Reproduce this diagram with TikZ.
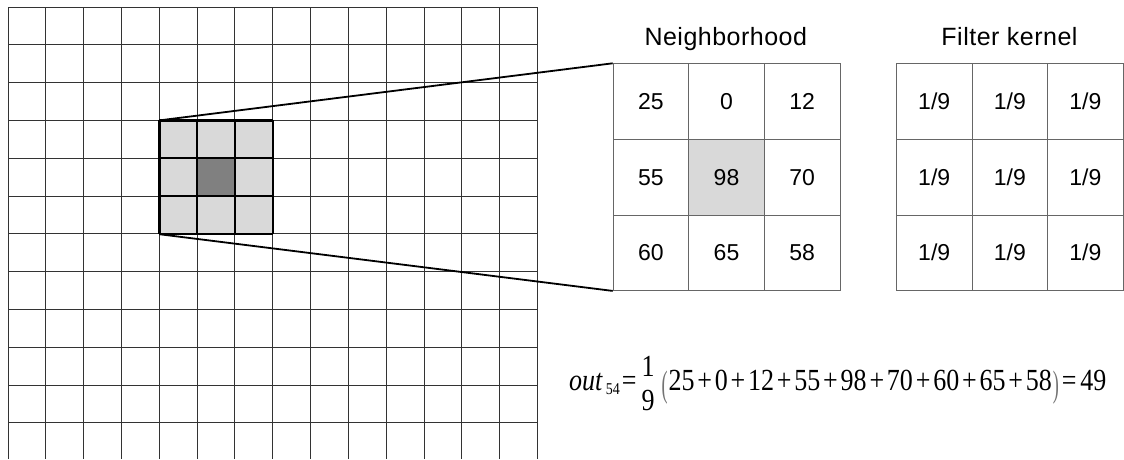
\documentclass[tikz,border=0pt]{standalone}
\usepackage{fontspec}
\usepackage{graphicx}
\setmainfont{Liberation Sans}
\newfontfamily\eqfont{Liberation Serif}
\newfontfamily\titlefont[LetterSpace=2]{Liberation Sans}
\newcommand\pl{\hspace{2.8pt}+\hspace{2.8pt}}
\newcommand\thinparen[1]{\raisebox{-5.8pt}{\textcolor{black!55}{\scalebox{0.7}[1.2]{#1}}}}
\tikzset{
  gridline/.style={draw=black!80, line width=1pt},
  winline/.style={draw=black, line width=2.4pt},
  cellbox/.style={draw=black!60, line width=0.8pt, minimum width=75.6pt, minimum height=75.6pt,
    inner sep=0pt, anchor=north west, text height=16.5pt, text depth=0pt,
    font=\fontsize{23}{27}\selectfont},
  title/.style={font=\titlefont\fontsize{25}{30}\selectfont, anchor=base, inner sep=0pt},
  connector/.style={draw=black, line width=1.8pt},
  eqnode/.style={anchor=base west, inner sep=0pt}
}
\begin{document}
\begin{tikzpicture}[x=1pt,y=-1pt]
\useasboundingbox (0,0) rectangle (1124,459);
% image grid
\fill[gray!30] (159.3,120.4) rectangle (272.7,233.8);
\fill[gray] (197.1,158.2) rectangle (234.9,196);
\foreach \i in {0,...,14} \draw[gridline] (8+37.82*\i,7) -- (8+37.82*\i,459);
\foreach \j in {0,...,11} \draw[gridline] (8,7+37.8*\j) -- (537.5,7+37.8*\j);
\foreach \i in {0,...,3} \draw[winline] (159.3+37.8*\i,120.4) -- (159.3+37.8*\i,233.8);
\foreach \j in {0,...,3} \draw[winline] (159.3,120.4+37.8*\j) -- (272.7,120.4+37.8*\j);
\node[inner sep=0pt, minimum width=113.4pt, minimum height=113.4pt, anchor=north west] (win) at (159.3,120.4) {};
% neighborhood
\foreach \v [count=\k from 0] in {25,0,12,55,98,70,60,65,58} {
  \pgfmathtruncatemacro\r{int(\k/3)}
  \pgfmathtruncatemacro\c{\k-3*\r}
  \pgfmathtruncatemacro\n{\k+1}
  \ifnum\k=4
    \node[cellbox, fill=gray!30] (n\n) at (612.7+75.6*\c,63.3+75.6*\r) {\v};
  \else
    \node[cellbox] (n\n) at (612.7+75.6*\c,63.3+75.6*\r) {\v};
  \fi
}
% kernel
\foreach \k in {0,...,8} {
  \pgfmathtruncatemacro\r{int(\k/3)}
  \pgfmathtruncatemacro\c{\k-3*\r}
  \pgfmathtruncatemacro\n{\k+1}
  \node[cellbox] (k\n) at (896+75.6*\c,63.3+75.6*\r) {1/9};
}
\node[title] (tnb) at (725.8,45.7) {Neighborhood};
\node[title] (tfk) at (1009.5,45.7) {Filter kernel};
% connectors
\draw[connector] (win.north west) -- (n1.north west);
\draw[connector] (win.south west) -- (n7.south west);
% equation
\node[eqnode] (eq) at (569,390) {\eqfont\fontsize{26}{30}\selectfont\scalebox{1}[1.18]{%
  \textit{out}\hspace{3pt}\raisebox{-3.4pt}{\fontsize{14}{16}\selectfont 54}\hspace{2pt}=\hspace{5pt}\rlap{\raisebox{11.5pt}{1}}\raisebox{-17pt}{9}\hspace{7pt}\thinparen{(}\hspace{1pt}25\pl 0\pl 12\pl 55\pl 98\pl 70\pl 60\pl 65\pl 58\hspace{1pt}\thinparen{)}\hspace{3pt}=\hspace{4pt}49}};
\end{tikzpicture}
\end{document}
